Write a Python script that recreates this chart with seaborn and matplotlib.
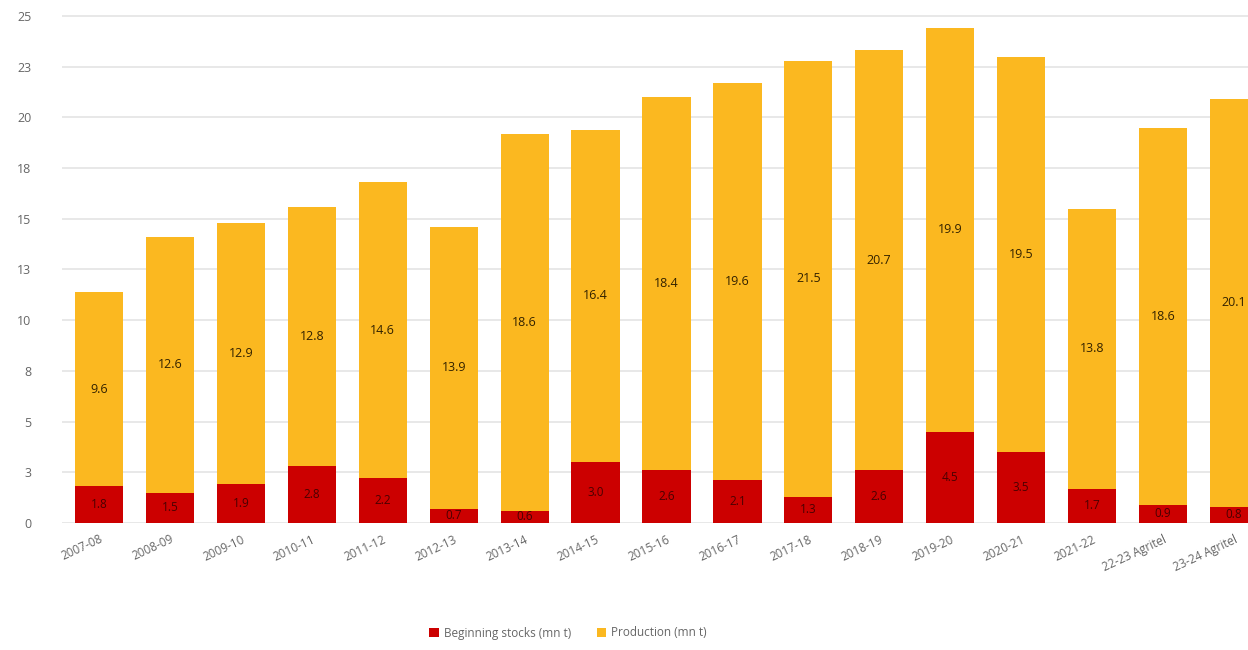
import matplotlib
matplotlib.use("Agg")
import matplotlib.pyplot as plt
import seaborn as sns
import pandas as pd
from matplotlib.patches import Patch

# Marketing years
seasons = ["2007-08", "2008-09", "2009-10", "2010-11", "2011-12", "2012-13",
           "2013-14", "2014-15", "2015-16", "2016-17", "2017-18", "2018-19",
           "2019-20", "2020-21", "2021-22", "22-23 Agritel", "23-24 Agritel"]

# Beginning stocks (mn t)
stocks = [1.8, 1.5, 1.9, 2.8, 2.2, 0.7, 0.6, 3.0, 2.6, 2.1, 1.3, 2.6,
          4.5, 3.5, 1.7, 0.9, 0.8]

# Production (mn t)
production = [9.6, 12.6, 12.9, 12.8, 14.6, 13.9, 18.6, 16.4, 18.4, 19.6,
              21.5, 20.7, 19.9, 19.5, 13.8, 18.6, 20.1]

# Y axis ticks and their (rounded) labels
y_ticks = [0, 2.5, 5, 7.5, 10, 12.5, 15, 17.5, 20, 22.5, 25]
y_labels = ["0", "3", "5", "8", "10", "13", "15", "18", "20", "23", "25"]

RED = "#CC0000"
YELLOW = "#FBB820"

df = pd.DataFrame({"season": seasons, "stocks": stocks, "production": production})
df["total"] = df["stocks"] + df["production"]

sns.set_theme(style="white")
plt.rcParams["font.family"] = ["Open Sans", "DejaVu Sans"]

fig = plt.figure(figsize=(12.48, 6.5), dpi=100)
ax = fig.add_axes([62 / 1248, 1 - 523 / 650, 1 - 62 / 1248, (523 - 9.9) / 650])

# Stacked bars: full total in yellow, stocks drawn over the bottom in red
sns.barplot(data=df, x="season", y="total", color=YELLOW, saturation=1,
            width=0.68, linewidth=0, ax=ax, zorder=3)
sns.barplot(data=df, x="season", y="stocks", color=RED, saturation=1,
            width=0.68, linewidth=0, ax=ax, zorder=3)

# Value labels centred in each segment
for i, (s, p) in enumerate(zip(stocks, production)):
    ax.text(i, s / 2, f"{s:.1f}", ha="center", va="center",
            fontsize=8.5, color="#4a0000", zorder=5)
    ax.text(i, s + p / 2, f"{p:.1f}", ha="center", va="center",
            fontsize=9, color="#332200", zorder=5)

ax.set_ylim(0, 25.3)
ax.set_xlim(-0.524, 16.2)
ax.set_yticks(y_ticks)
ax.set_yticklabels(y_labels)
ax.yaxis.grid(True, color="#e4e4e4", linewidth=1.2, zorder=0)
ax.xaxis.grid(False)
for sp in ax.spines.values():
    sp.set_visible(False)

ax.set_xlabel("")
ax.set_ylabel("")
ax.tick_params(axis="y", length=0, pad=22, labelsize=9, labelcolor="#666666")
ax.tick_params(axis="x", length=0, pad=7, labelsize=8.5, labelcolor="#666666")
plt.setp(ax.get_xticklabels(), rotation=25, ha="right", rotation_mode="anchor")

handles = [Patch(facecolor=RED, edgecolor="none", label="Beginning stocks (mn t)"),
           Patch(facecolor=YELLOW, edgecolor="none", label="Production (mn t)")]
fig.legend(handles=handles, loc="center", bbox_to_anchor=(568 / 1248, 1 - 633 / 650),
           ncol=2, frameon=False, fontsize=8.5, labelcolor="#666666",
           handlelength=0.8, handleheight=0.8, columnspacing=2.2, handletextpad=0.4)

fig.savefig("out.png", dpi=100)
